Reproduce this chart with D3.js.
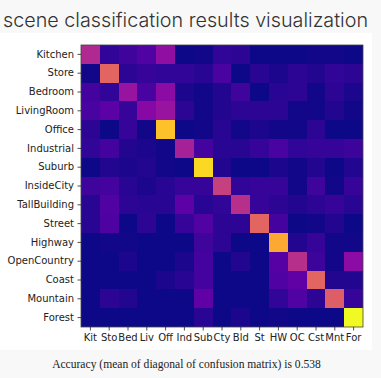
<!DOCTYPE html>
<html><head><meta charset="utf-8">
<script src="https://cdn.jsdelivr.net/npm/d3@7"></script>
<style>
html,body{margin:0;padding:0;background:#f8f8f8;}
svg{display:block;}
</style></head>
<body>
<svg id="chart" width="381" height="378"></svg>
<script>
const rowLabels = ["Kitchen","Store","Bedroom","LivingRoom","Office","Industrial","Suburb","InsideCity","TallBuilding","Street","Highway","OpenCountry","Coast","Mountain","Forest"];
const colLabels = ["Kit","Sto","Bed","Liv","Off","Ind","Sub","Cty","Bld","St","HW","OC","Cst","Mnt","For"];
const matrix = [
  [0.37,0.06,0.09,0.13,0.28,0,0.01,0.06,0.05,0,0,0,0.01,0.01,0],
  [0.01,0.56,0.05,0.07,0.06,0.06,0.04,0.11,0,0.04,0.02,0.05,0.03,0.06,0.05],
  [0.10,0.06,0.30,0.11,0.27,0.02,0.01,0.03,0.09,0,0.04,0.05,0.01,0.05,0.02],
  [0.11,0.15,0.07,0.26,0.30,0.05,0.01,0.03,0.05,0.05,0.05,0.01,0.01,0.03,0.01],
  [0.05,0,0.07,0.01,0.81,0,0.01,0.04,0.01,0.02,0.01,0.01,0.05,0,0],
  [0.06,0.10,0.03,0.02,0.01,0.34,0.10,0.04,0.04,0.07,0.11,0.06,0.07,0.07,0.08],
  [0,0.03,0.02,0.03,0.01,0,0.86,0.03,0,0,0.02,0.01,0.03,0,0.03],
  [0.09,0.10,0.04,0.02,0.04,0.07,0.07,0.44,0.06,0.07,0.07,0.01,0.09,0.01,0.07],
  [0.04,0.13,0.05,0.04,0.04,0.15,0.04,0.06,0.39,0.07,0.05,0.03,0.05,0.07,0.04],
  [0.04,0.12,0,0.05,0,0.07,0.13,0.05,0.05,0.56,0.10,0,0.01,0.03,0],
  [0,0.01,0.01,0,0,0,0.09,0.05,0,0,0.75,0.03,0.07,0.01,0.01],
  [0,0,0.02,0,0,0.02,0.10,0,0.03,0,0.14,0.39,0.08,0.01,0.27],
  [0,0,0,0,0.02,0.04,0.10,0,0,0,0.13,0.16,0.56,0.03,0.03],
  [0,0.05,0.03,0,0,0,0.16,0,0,0,0.06,0.13,0.05,0.54,0.07],
  [0,0,0,0,0,0,0.04,0,0.02,0,0.01,0,0,0,0.93]
];
const titleText = "scene classification results visualization";
const captionText = "Accuracy (mean of diagonal of confusion matrix) is 0.538";

const svg = d3.select("#chart");
// white figure panel
svg.append("rect").attr("x",0).attr("y",33).attr("width",372).attr("height",317).attr("fill","#ffffff");

const mLeft = 81, mTop = 45, mSize = 282;
const x = d3.scaleBand().domain(colLabels).range([mLeft, mLeft+mSize]);
const y = d3.scaleBand().domain(rowLabels).range([mTop, mTop+mSize]);
const maxV = d3.max(matrix.flat());
const color = d3.scaleSequential(d3.interpolatePlasma).domain([0, maxV]);

const cells = [];
matrix.forEach((row,i)=>row.forEach((v,j)=>cells.push({r:rowLabels[i], c:colLabels[j], v})));
svg.append("g").selectAll("rect").data(cells).join("rect")
  .attr("x",d=>x(d.c)).attr("y",d=>y(d.r))
  .attr("width",x.bandwidth()+0.3).attr("height",y.bandwidth()+0.3)
  .attr("fill",d=>color(d.v)).attr("shape-rendering","crispEdges");

svg.append("rect").attr("x",mLeft).attr("y",mTop).attr("width",mSize).attr("height",mSize)
  .attr("fill","none").attr("stroke","#444").attr("stroke-width",0.8);

const fontAxis = "'DejaVu Sans', sans-serif";
const yAxis = svg.append("g").attr("transform",`translate(${mLeft},0)`)
  .call(d3.axisLeft(y).tickSize(3.5).tickPadding(3.5));
const xAxis = svg.append("g").attr("transform",`translate(0,${mTop+mSize})`)
  .call(d3.axisBottom(x).tickSize(3.5).tickPadding(3.5));
[yAxis,xAxis].forEach(a=>{
  a.select(".domain").remove();
  a.selectAll("line").attr("stroke","#222").attr("stroke-width",0.8);
  a.selectAll("text").attr("fill","#222").style("font-family",fontAxis).style("font-size","10px");
});

const t = svg.append("text").attr("x",3).attr("y",27).text(titleText)
  .style("font-family","Inter, Lato, sans-serif").style("font-weight","300").style("font-size","22px").attr("fill","#333");
const tw = t.node().getComputedTextLength();
t.style("font-size", (22*365/tw).toFixed(2)+"px");

const c = svg.append("text").attr("x",186.5).attr("y",368).attr("text-anchor","middle").text(captionText)
  .style("font-family","'Liberation Serif', 'DejaVu Serif', serif").style("font-size","11px").attr("fill","#222");
const cw = c.node().getComputedTextLength();
c.style("font-size", (11*269/cw).toFixed(2)+"px");
</script>
</body></html>
